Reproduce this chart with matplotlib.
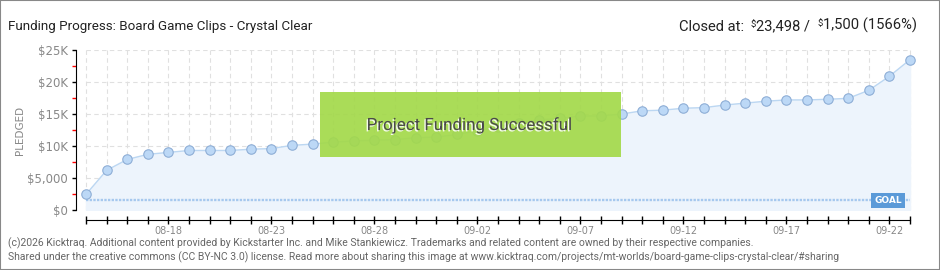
import matplotlib
matplotlib.use("Agg")
import matplotlib.pyplot as plt
import matplotlib.patheffects as pe
from matplotlib.patches import Rectangle
import numpy as np
import pandas as pd

# daily pledged totals, 08-14 .. 09-23
dates = pd.date_range("2016-08-14", "2016-09-23")
pledged = [2450, 6200, 7900, 8700, 9000, 9300, 9300, 9300, 9500, 9600,
           10100, 10300, 10600, 10800, 10900, 11000, 11300, 11400,
           11800, 12400, 13000, 13600, 14100, 14300, 14700, 14700, 15000,
           15500, 15600, 15900, 16000, 16400, 16700, 17000, 17200, 17200,
           17300, 17450, 18700, 20900, 23498]
goal = 1500
yticks = [0, 5000, 10000, 15000, 20000, 25000]
ytick_labels = ["$0", "$5,000", "$10K", "$15K", "$20K", "$25K"]
label_every = 5
title = "Funding Progress: Board Game Clips - Crystal Clear"
closed_parts = ["Closed at:  ", "$", "23,498 /  ", "$", "1,500 (1566%)"]
footer = ["(c)2026 Kicktraq. Additional content provided by Kickstarter Inc. and Mike Stankiewicz. "
          "Trademarks and related content are owned by their respective companies.",
          "Shared under the creative commons (CC BY-NC 3.0) license. Read more about sharing this image at "
          "www.kicktraq.com/projects/mt-worlds/board-game-clips-crystal-clear/#sharing"]

NARROW = ["Liberation Sans Narrow", "Roboto", "DejaVu Sans"]

W, H = 940, 270
fig = plt.figure(figsize=(W / 100, H / 100), dpi=100)
ax = fig.add_axes([76 / W, 60 / H, 836 / W, 160 / H])

x = np.arange(len(dates))
day_px = 20.6
ax.set_xlim(-10 / day_px, x[-1] + 2 / day_px)
ax.set_ylim(0, 25000)

# dashed grid only over the data span
ax.vlines(x, 0, 25000, colors="#e0e0e0", linestyles=(0, (4, 3)), lw=0.8, zorder=0)
ax.hlines(yticks, 0, x[-1], colors="#e0e0e0", linestyles=(0, (4, 3)), lw=0.8, zorder=0)

ax.fill_between(x, pledged, color="#edf4fc", zorder=1)
ax.plot(x, pledged, color="#bcd7f2", lw=1, zorder=3, marker="o", ms=6.8,
        mfc="#bcd8f6", mec="#8eaed6", mew=0.8, clip_on=False)
ax.hlines(goal, 0, x[-1], colors="#a6c8ee", lw=1.7, linestyles=(0, (1.0, 0.55)), zorder=2)
ax.text(38.93, goal, "GOAL", ha="center", va="center", color="white", fontsize=6.5,
        fontweight="bold", zorder=4,
        bbox=dict(boxstyle="square,pad=0.35", fc="#5b9ad8", ec="none"))

for s in ["top", "right"]:
    ax.spines[s].set_visible(False)
ax.spines["left"].set_bounds(0, 25000)
ax.spines["bottom"].set_position(("outward", 7.2))
ax.spines["bottom"].set_bounds(0, x[-1])

ax.set_yticks(yticks)
ax.set_yticklabels(ytick_labels)
ax.set_yticks([(a + b) / 2 for a, b in zip(yticks[:-1], yticks[1:])], minor=True)
ax.tick_params(axis="y", which="major", direction="out", length=3, width=1,
               color="black", labelsize=8.5, labelcolor="#888888", pad=3)
ax.tick_params(axis="y", which="minor", direction="out", length=3, width=1, color="red")

ax.set_xticks(x)
ax.set_xticklabels([d.strftime("%m-%d") if (i - 4) % label_every == 0 else ""
                    for i, d in enumerate(dates)])
ax.tick_params(axis="x", direction="inout", length=6, width=1, color="black",
               labelsize=7, labelcolor="#888888", pad=1.5)

fig.text(20 / W, 1 - 130 / H, "PLEDGED", rotation=90, fontsize=7.5, color="#888888",
         ha="center", va="center")

# success banner
fig.add_artist(Rectangle((320 / W, 1 - 157 / H), 301 / W, 65 / H, transform=fig.transFigure,
                         fc="#a3d94a", ec="none", alpha=0.92, zorder=5))
fig.text(468.5 / W, 1 - 125 / H, "Project Funding Successful", ha="center", va="center",
         fontsize=12.2, color="#4a4a4a", family=NARROW, zorder=6,
         path_effects=[pe.withSimplePatchShadow(offset=(-1, -1), shadow_rgbFace="white", alpha=0.9)])

# header
fig.text(8 / W, 1 - 30 / H, title, va="baseline", fontsize=9.6, color="#222222", family=NARROW)
prev = fig.text(917 / W, 1 - 30 / H, closed_parts[-1], ha="right", va="baseline",
                fontsize=10.6, color="#222222", family=NARROW)
for part in closed_parts[-2::-1]:
    size = 6.8 if part == "$" else 10.6
    prev = ax.annotate(part, xy=(0, 0.95), xycoords=prev, ha="right", va="top",
                       fontsize=size, color="#222222", family=NARROW, annotation_clip=False)

fig.text(8 / W, 1 - 243 / H, footer[0], va="center", fontsize=7.5, color="#666666", family=NARROW)
fig.text(8 / W, 1 - 257 / H, footer[1], va="center", fontsize=7.5, color="#666666", family=NARROW)

fig.add_artist(Rectangle((0, 0), 1, 1, transform=fig.transFigure, fill=False,
                         ec="#888888", lw=1.5))

fig.savefig("out.png", dpi=100)
